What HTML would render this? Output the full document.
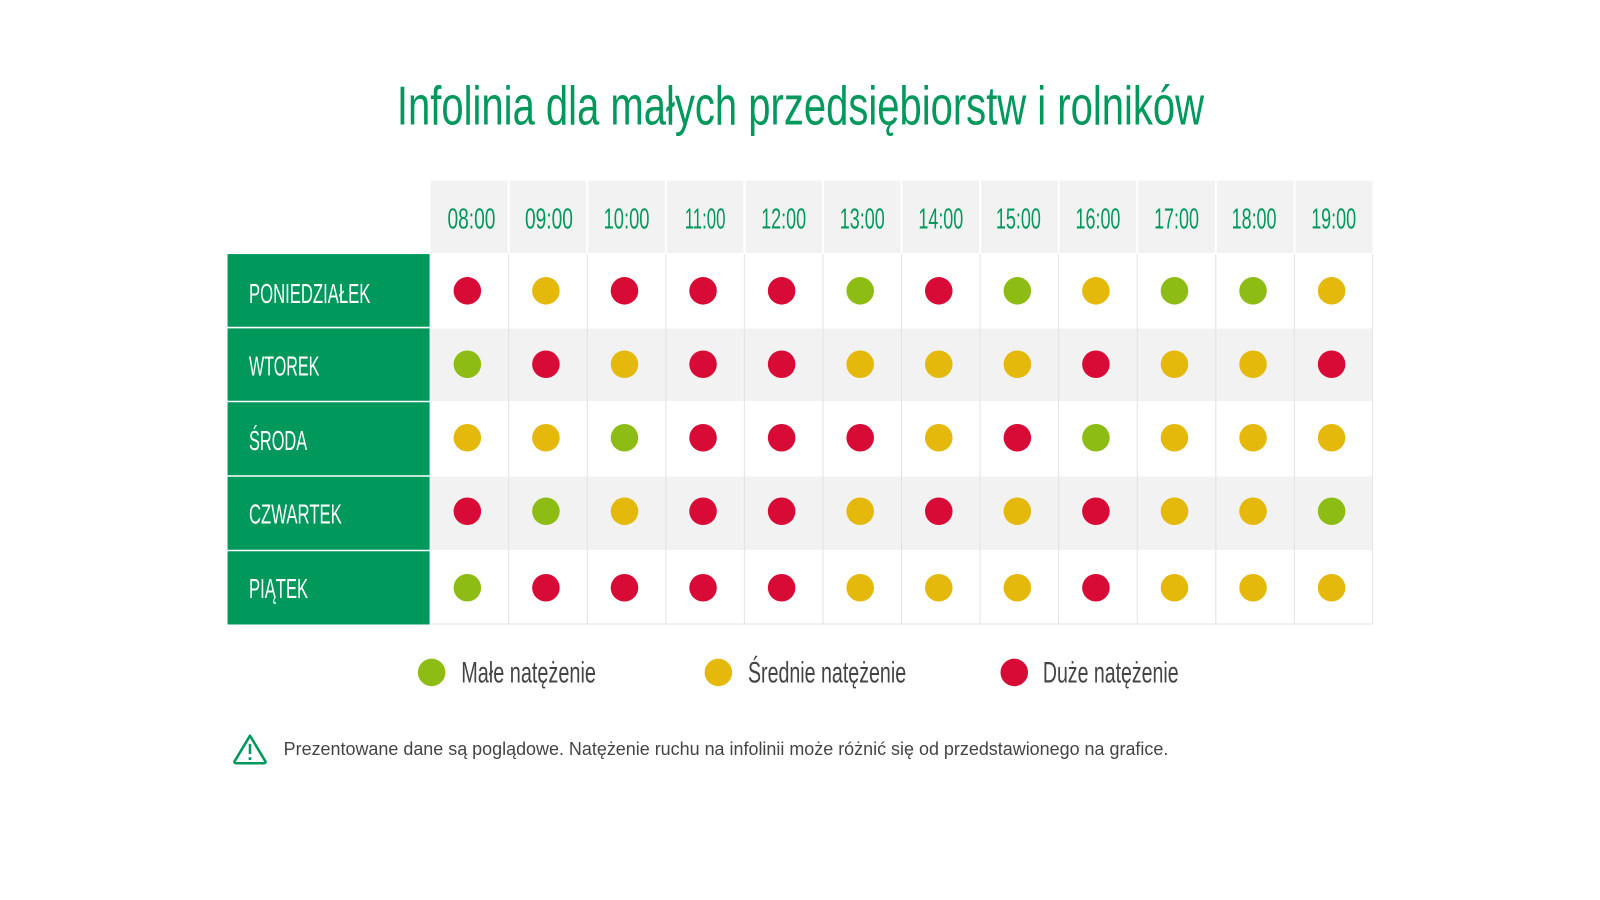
<!DOCTYPE html>
<html><head><meta charset="utf-8"><style>
html,body{margin:0;padding:0;background:#fff;}
svg{display:block;}
text{font-family:"Liberation Sans Narrow","Liberation Sans",sans-serif;}
</style></head><body>
<svg width="1600" height="900" viewBox="0 0 1600 900" xmlns="http://www.w3.org/2000/svg">
<rect width="1600" height="900" fill="#fff"/>
<defs>
<circle id="R" r="13.5" fill="#d80a36"/>
<circle id="Y" r="13.5" fill="#e4b90b"/>
<circle id="G" r="13.5" fill="#8dbd14"/>
</defs>
<g transform="scale(1.0204)">
<text x="389" y="122" font-size="54" fill="#00985b" textLength="791" lengthAdjust="spacingAndGlyphs">Infolinia dla małych przedsiębiorstw i rolników</text>
<rect x="422" y="177" width="923" height="71" fill="#f2f2f2"/>
<rect x="422" y="322" width="923" height="71" fill="#f2f2f2"/>
<rect x="422" y="467" width="923" height="72" fill="#f2f2f2"/>
<rect x="223" y="249" width="198" height="363" fill="#00985b"/>
<g stroke="#fff" stroke-width="1.5">
<line x1="223" y1="321" x2="421" y2="321"/><line x1="223" y1="393.5" x2="421" y2="393.5"/><line x1="223" y1="466.5" x2="421" y2="466.5"/><line x1="223" y1="539.5" x2="421" y2="539.5"/>
</g>
<g stroke="#fff" stroke-width="2">
<line x1="498.5" y1="177" x2="498.5" y2="248"/><line x1="575.5" y1="177" x2="575.5" y2="248"/><line x1="652.5" y1="177" x2="652.5" y2="248"/><line x1="729.5" y1="177" x2="729.5" y2="248"/><line x1="806.5" y1="177" x2="806.5" y2="248"/><line x1="883.5" y1="177" x2="883.5" y2="248"/><line x1="960.5" y1="177" x2="960.5" y2="248"/><line x1="1037.5" y1="177" x2="1037.5" y2="248"/><line x1="1114.5" y1="177" x2="1114.5" y2="248"/><line x1="1191.5" y1="177" x2="1191.5" y2="248"/><line x1="1268.5" y1="177" x2="1268.5" y2="248"/>
</g>
<g stroke="#e3e3e3" stroke-width="1">
<line x1="498.5" y1="249" x2="498.5" y2="612"/><line x1="575.5" y1="249" x2="575.5" y2="612"/><line x1="652.5" y1="249" x2="652.5" y2="612"/><line x1="729.5" y1="249" x2="729.5" y2="612"/><line x1="806.5" y1="249" x2="806.5" y2="612"/><line x1="883.5" y1="249" x2="883.5" y2="612"/><line x1="960.5" y1="249" x2="960.5" y2="612"/><line x1="1037.5" y1="249" x2="1037.5" y2="612"/><line x1="1114.5" y1="249" x2="1114.5" y2="612"/><line x1="1191.5" y1="249" x2="1191.5" y2="612"/><line x1="1268.5" y1="249" x2="1268.5" y2="612"/><line x1="1345" y1="249" x2="1345" y2="612"/>
<line x1="422" y1="611.5" x2="1345" y2="611.5"/>
</g>
<g font-size="28" fill="#00985b" text-anchor="middle" lengthAdjust="spacingAndGlyphs">
<text x="462" y="224" textLength="47" lengthAdjust="spacingAndGlyphs">08:00</text><text x="538" y="224" textLength="47" lengthAdjust="spacingAndGlyphs">09:00</text><text x="614" y="224" textLength="45" lengthAdjust="spacingAndGlyphs">10:00</text><text x="691" y="224" textLength="40" lengthAdjust="spacingAndGlyphs">11:00</text><text x="768" y="224" textLength="44" lengthAdjust="spacingAndGlyphs">12:00</text><text x="845" y="224" textLength="44" lengthAdjust="spacingAndGlyphs">13:00</text><text x="922" y="224" textLength="44" lengthAdjust="spacingAndGlyphs">14:00</text><text x="998" y="224" textLength="44" lengthAdjust="spacingAndGlyphs">15:00</text><text x="1076" y="224" textLength="44" lengthAdjust="spacingAndGlyphs">16:00</text><text x="1153" y="224" textLength="44" lengthAdjust="spacingAndGlyphs">17:00</text><text x="1229" y="224" textLength="44" lengthAdjust="spacingAndGlyphs">18:00</text><text x="1307" y="224" textLength="44" lengthAdjust="spacingAndGlyphs">19:00</text>
</g>
<g font-size="27" fill="#fff">
<text x="244" y="297" textLength="119" lengthAdjust="spacingAndGlyphs">PONIEDZIAŁEK</text>
<text x="244" y="368" textLength="69" lengthAdjust="spacingAndGlyphs">WTOREK</text>
<text x="244" y="441" textLength="57" lengthAdjust="spacingAndGlyphs">ŚRODA</text>
<text x="244" y="513" textLength="91" lengthAdjust="spacingAndGlyphs">CZWARTEK</text>
<text x="244" y="586" textLength="58" lengthAdjust="spacingAndGlyphs">PIĄTEK</text>
</g>
<use href="#R" x="458" y="285"/><use href="#Y" x="535" y="285"/><use href="#R" x="612" y="285"/><use href="#R" x="689" y="285"/><use href="#R" x="766" y="285"/><use href="#G" x="843" y="285"/><use href="#R" x="920" y="285"/><use href="#G" x="997" y="285"/><use href="#Y" x="1074" y="285"/><use href="#G" x="1151" y="285"/><use href="#G" x="1228" y="285"/><use href="#Y" x="1305" y="285"/>
<use href="#G" x="458" y="357"/><use href="#R" x="535" y="357"/><use href="#Y" x="612" y="357"/><use href="#R" x="689" y="357"/><use href="#R" x="766" y="357"/><use href="#Y" x="843" y="357"/><use href="#Y" x="920" y="357"/><use href="#Y" x="997" y="357"/><use href="#R" x="1074" y="357"/><use href="#Y" x="1151" y="357"/><use href="#Y" x="1228" y="357"/><use href="#R" x="1305" y="357"/>
<use href="#Y" x="458" y="429"/><use href="#Y" x="535" y="429"/><use href="#G" x="612" y="429"/><use href="#R" x="689" y="429"/><use href="#R" x="766" y="429"/><use href="#R" x="843" y="429"/><use href="#Y" x="920" y="429"/><use href="#R" x="997" y="429"/><use href="#G" x="1074" y="429"/><use href="#Y" x="1151" y="429"/><use href="#Y" x="1228" y="429"/><use href="#Y" x="1305" y="429"/>
<use href="#R" x="458" y="501"/><use href="#G" x="535" y="501"/><use href="#Y" x="612" y="501"/><use href="#R" x="689" y="501"/><use href="#R" x="766" y="501"/><use href="#Y" x="843" y="501"/><use href="#R" x="920" y="501"/><use href="#Y" x="997" y="501"/><use href="#R" x="1074" y="501"/><use href="#Y" x="1151" y="501"/><use href="#Y" x="1228" y="501"/><use href="#G" x="1305" y="501"/>
<use href="#G" x="458" y="576"/><use href="#R" x="535" y="576"/><use href="#R" x="612" y="576"/><use href="#R" x="689" y="576"/><use href="#R" x="766" y="576"/><use href="#Y" x="843" y="576"/><use href="#Y" x="920" y="576"/><use href="#Y" x="997" y="576"/><use href="#R" x="1074" y="576"/><use href="#Y" x="1151" y="576"/><use href="#Y" x="1228" y="576"/><use href="#Y" x="1305" y="576"/>
<use href="#G" x="423" y="659"/><use href="#Y" x="704" y="659"/><use href="#R" x="994" y="659"/>
<g font-size="29" fill="#444">
<text x="452" y="669" textLength="132" lengthAdjust="spacingAndGlyphs">Małe natężenie</text>
<text x="733" y="669" textLength="155" lengthAdjust="spacingAndGlyphs">Średnie natężenie</text>
<text x="1022" y="669" textLength="133" lengthAdjust="spacingAndGlyphs">Duże natężenie</text>
</g>
<path d="M245 721 L260 746 Q261 748 258 748 L232 748 Q229 748 230 746 Z" fill="none" stroke="#00985b" stroke-width="2.5" stroke-linejoin="round"/>
<line x1="245" y1="729" x2="245" y2="739" stroke="#00985b" stroke-width="2.5"/>
<circle cx="245" cy="743.5" r="1.5" fill="#00985b"/>
<text x="278" y="740" font-size="18" fill="#444" style="font-family:'Liberation Sans',sans-serif" textLength="867" lengthAdjust="spacingAndGlyphs">Prezentowane dane są poglądowe. Natężenie ruchu na infolinii może różnić się od przedstawionego na grafice.</text>
</g>
</svg>
</body></html>
